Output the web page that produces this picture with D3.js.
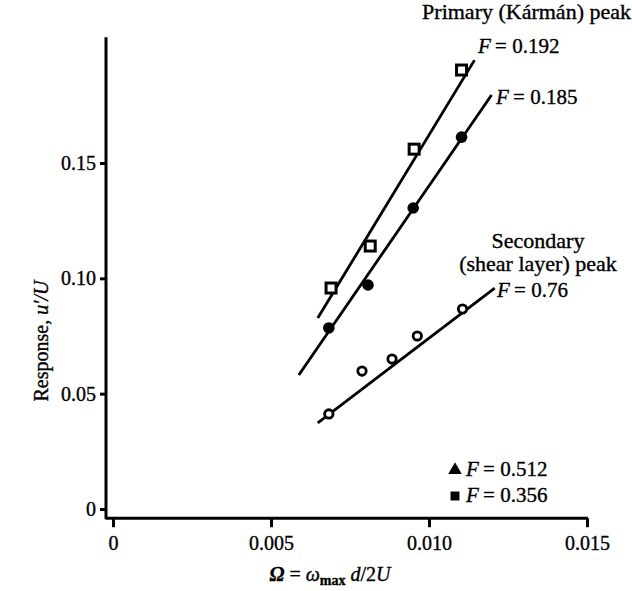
<!DOCTYPE html>
<html>
<head>
<meta charset="utf-8">
<script src="https://cdn.jsdelivr.net/npm/d3@7"></script>
<style>
  body { margin: 0; background: #fff; }
  svg { display: block; font-family: "Liberation Serif", "DejaVu Serif", serif; }
  text { stroke: #000; stroke-width: 0.35px; }
</style>
</head>
<body>
<div class="container"></div>
<script>
// values
var xTicks = [0, 0.005, 0.010, 0.015];
var xTickLabels = ['0', '0.005', '0.010', '0.015'];
var yTicks = [0, 0.05, 0.10, 0.15];
var yTickLabels = ['0', '0.05', '0.10', '0.15'];

// F = 0.192 (open squares)
var xSquares = [0.00690, 0.00814, 0.00953, 0.01103];
var ySquares = [0.0958, 0.1140, 0.1560, 0.1903];
// F = 0.185 (filled circles)
var xFilled = [0.00683, 0.00807, 0.00950, 0.01103];
var yFilled = [0.0785, 0.0971, 0.1305, 0.1612];
// F = 0.76 (open circles)
var xOpen = [0.00683, 0.00788, 0.00883, 0.00963, 0.01106];
var yOpen = [0.0412, 0.0598, 0.0650, 0.0750, 0.0867];

// drawn fit lines, ends: [x0, y0, x1, y1]
var fitSquares = [0.00648, 0.0828, 0.01144, 0.1946];
var fitFilled = [0.00588, 0.0581, 0.01198, 0.1795];
var fitOpen = [0.00648, 0.0373, 0.01208, 0.0958];

var legendLabels = ['0.512', '0.356'];

var opts = { width: 632, height: 591 };

var svg = d3.select('.container').append('svg')
            .attr('width', opts.width)
            .attr('height', opts.height);

var x = d3.scaleLinear().domain([0, 0.015]).range([113, 587]);
var y = d3.scaleLinear().domain([0, 0.15]).range([509, 163]);

var axisY = y(-0.004);   // where the horizontal axis sits
var axisX = 106;         // where the vertical axis sits

// axes
var gx = svg.append('g')
            .attr('transform', 'translate(0,' + axisY + ')')
            .call(d3.axisBottom(x).tickValues(xTicks)
                    .tickFormat(function(d, i){ return xTickLabels[i]; })
                    .tickSize(9).tickPadding(9));
gx.select('.domain').remove();
gx.selectAll('.tick line').attr('stroke', '#000').attr('stroke-width', 3);
gx.selectAll('.tick text').attr('font-size', 20).attr('font-family', 'Liberation Serif').attr('fill', '#000');

var gy = svg.append('g')
            .attr('transform', 'translate(' + axisX + ',0)')
            .call(d3.axisLeft(y).tickValues(yTicks)
                    .tickFormat(function(d, i){ return yTickLabels[i]; })
                    .tickSize(6).tickPadding(4));
gy.select('.domain').remove();
gy.selectAll('.tick line').attr('stroke', '#000').attr('stroke-width', 3);
gy.selectAll('.tick text').attr('font-size', 20).attr('font-family', 'Liberation Serif').attr('fill', '#000');

svg.append('line')
   .attr('x1', axisX).attr('x2', axisX)
   .attr('y1', y(0.2045)).attr('y2', axisY + 1)
   .attr('stroke', '#000').attr('stroke-width', 3);
svg.append('line')
   .attr('x1', axisX).attr('x2', x(0.015) + 1)
   .attr('y1', axisY).attr('y2', axisY)
   .attr('stroke', '#000').attr('stroke-width', 3);

// fit lines
[fitSquares, fitFilled, fitOpen].forEach(function(f){
  svg.append('line')
     .attr('x1', x(f[0])).attr('y1', y(f[1]))
     .attr('x2', x(f[2])).attr('y2', y(f[3]))
     .attr('stroke', '#000').attr('stroke-width', 2.8);
});

// open squares
svg.selectAll('rect.sq')
   .data(d3.zip(xSquares, ySquares))
   .enter().append('rect')
   .attr('class', 'sq')
   .attr('x', function(d){ return x(d[0]) - 5; })
   .attr('y', function(d){ return y(d[1]) - 5; })
   .attr('width', 10).attr('height', 10)
   .attr('fill', '#fff').attr('stroke', '#000').attr('stroke-width', 3);

// filled circles
svg.selectAll('circle.fc')
   .data(d3.zip(xFilled, yFilled))
   .enter().append('circle')
   .attr('class', 'fc')
   .attr('cx', function(d){ return x(d[0]); })
   .attr('cy', function(d){ return y(d[1]); })
   .attr('r', 5.8)
   .attr('fill', '#000');

// open circles
svg.selectAll('circle.oc')
   .data(d3.zip(xOpen, yOpen))
   .enter().append('circle')
   .attr('class', 'oc')
   .attr('cx', function(d){ return x(d[0]); })
   .attr('cy', function(d){ return y(d[1]); })
   .attr('r', 4.2)
   .attr('fill', '#fff').attr('stroke', '#000').attr('stroke-width', 2.8);

// F = ... labels with italic F
function fLabel(px, py, value){
  var t = svg.append('text').attr('x', px).attr('y', py)
             .attr('font-size', 21).attr('fill', '#000');
  t.append('tspan').attr('font-style', 'italic').text('F');
  t.append('tspan').text('\u2009= ' + value);
  return t;
}

svg.append('text').attr('x', 631).attr('y', 19).attr('text-anchor', 'end')
   .attr('font-size', 22).text('Primary (Kármán) peak');
fLabel(478, 53, '0.192');
fLabel(496, 104, '0.185');

svg.append('text').attr('x', 538).attr('y', 248).attr('text-anchor', 'middle')
   .attr('font-size', 22).text('Secondary');
svg.append('text').attr('x', 538).attr('y', 271).attr('text-anchor', 'middle')
   .attr('font-size', 22).text('(shear layer) peak');
fLabel(497, 297, '0.76');

// legend
var legendSymbols = [d3.symbolTriangle, d3.symbolSquare];
legendLabels.forEach(function(lbl, i){
  var ly = 476 + i * 26;
  svg.append('path')
     .attr('d', d3.symbol().type(legendSymbols[i]).size(80)())
     .attr('transform', 'translate(455,' + (ly - 6) + ')')
     .attr('fill', '#000');
  fLabel(466, ly, lbl);
});

// axis titles
var xt = svg.append('text').attr('x', 330).attr('y', 581)
            .attr('text-anchor', 'middle').attr('font-size', 20);
xt.append('tspan').attr('font-style', 'italic').attr('font-weight', 'bold').text('Ω');
xt.append('tspan').text(' = ');
xt.append('tspan').attr('font-style', 'italic').text('ω');
xt.append('tspan').attr('font-size', 14).attr('font-weight', 'bold').attr('dy', 4).text('max');
xt.append('tspan').attr('font-style', 'italic').attr('dy', -4).text(' d');
xt.append('tspan').text('/2');
xt.append('tspan').attr('font-style', 'italic').text('U');

var yt = svg.append('text')
            .attr('transform', 'translate(48,341) rotate(-90)')
            .attr('text-anchor', 'middle').attr('font-size', 20);
yt.append('tspan').text('Response, ');
yt.append('tspan').attr('font-style', 'italic').text('u′/U');
</script>
</body>
</html>
